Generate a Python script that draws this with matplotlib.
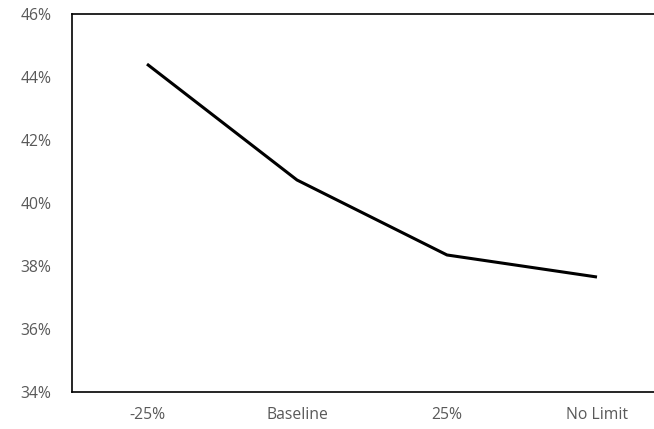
import matplotlib.pyplot as plt
import numpy as np

categories = ["-25%", "Baseline", "25%", "No Limit"]
values = [44.41, 40.73, 38.35, 37.65]  # percent
y_ticks = [34, 36, 38, 40, 42, 44, 46]

plt.rcParams['font.family'] = ['Open Sans', 'DejaVu Sans']

fig = plt.figure(figsize=(6.54, 4.29), dpi=100)
# plot area runs past the right edge of the picture (right border is cut off)
ax = fig.add_axes([72/654, 1-392/429, 600/654, 378/429])

x = np.arange(len(categories))
ax.plot(x, values, color='black', linewidth=2.2, solid_capstyle='butt')

ax.set_xlim(-0.5, len(categories)-0.5)
ax.set_ylim(34, 46)
ax.set_xticks(x)
ax.set_xticklabels(categories)
ax.set_yticks(y_ticks)
ax.set_yticklabels([f"{t}%" for t in y_ticks])

ax.tick_params(axis='both', length=0, labelsize=11.3, labelcolor='#595959')
ax.tick_params(axis='y', pad=15)
ax.tick_params(axis='x', pad=11)

for s in ax.spines.values():
    s.set_color('black')
    s.set_linewidth(1.2)

fig.savefig('out.png', dpi=100)
